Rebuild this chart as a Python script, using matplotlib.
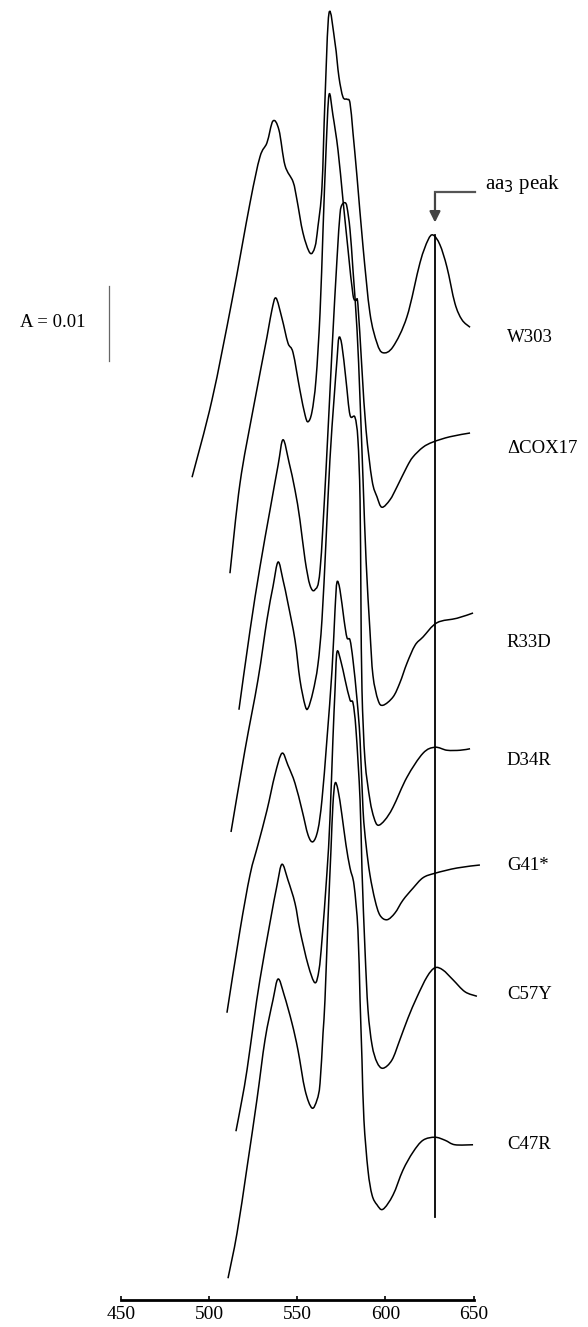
import matplotlib
matplotlib.use("Agg")
import matplotlib.pyplot as plt
from matplotlib.path import Path
from matplotlib.patches import PathPatch

plt.rcParams['font.family'] = ['Liberation Serif', 'DejaVu Serif']

# ---- data: wavelength (nm) and absorbance (mA, as plotted) ----
w303_x = [490.3, 501.6, 513.0, 523.2, 528.8, 532.8, 536.2, 539.6, 543.0, 547.6, 549.8, 553.2, 557.2, 560.0,
          561.7, 564.0, 565.7, 568.0, 571.4, 573.6, 575.9, 578.2, 579.9, 581.6, 583.9, 587.3, 591.2, 595.2,
          598.6, 604.3, 612.2, 619.6, 624.1, 627.0, 630.9, 634.9, 639.4, 643.4, 648.0]
w303_y = [109.7, 120.0, 133.3, 146.3, 152.4, 154.3, 157.2, 156.0, 151.3, 149.1, 146.7, 142.3, 139.6, 140.4,
          143.1, 148.4, 160.0, 171.6, 167.6, 163.1, 160.4, 160.1, 159.6, 155.6, 149.7, 140.4, 131.6, 127.6,
          126.3, 127.1, 131.1, 138.3, 141.3, 142.0, 140.7, 137.7, 132.9, 130.7, 129.7]

cox17_x = [511.8, 517.5, 524.9, 532.8, 535.6, 537.9, 541.3, 544.7, 547.6, 551.5, 554.4, 556.1, 558.3, 560.6,
           562.9, 564.6, 566.3, 568.0, 570.2, 573.1, 575.9, 578.8, 581.6, 583.3, 584.4, 586.7, 589.0, 592.4,
           595.2, 598.0, 602.6, 606.5, 612.2, 615.6, 621.3, 627.0, 636.6, 648.0]
cox17_y = [96.9, 108.9, 118.7, 128.4, 132.0, 133.6, 130.9, 127.6, 126.3, 121.3, 118.0, 117.1, 118.4, 122.7,
           131.6, 142.7, 153.3, 160.7, 158.0, 153.3, 146.7, 140.0, 134.0, 133.3, 132.7, 124.0, 116.0, 109.3,
           107.1, 105.7, 106.7, 108.4, 111.1, 112.4, 113.7, 114.4, 115.1, 115.6]

r33d_x = [516.9, 523.2, 528.8, 534.5, 539.1, 541.9, 545.3, 548.7, 551.5, 554.4, 557.2, 560.0, 562.9, 566.3,
          569.7, 572.5, 574.2, 575.3, 577.1, 578.2, 579.9, 581.6, 583.9, 585.6, 587.3, 589.0, 591.2, 592.9,
          595.8, 598.6, 604.3, 608.2, 612.2, 616.8, 621.3, 629.2, 640.6, 649.7]
r33d_y = [78.7, 89.3, 97.7, 105.3, 111.3, 114.7, 111.7, 108.0, 104.0, 98.7, 95.3, 94.7, 97.3, 110.7,
          126.7, 138.7, 144.7, 146.0, 146.3, 145.7, 142.7, 137.3, 129.3, 120.0, 109.3, 98.7, 89.3, 83.3,
          80.0, 79.3, 80.4, 82.3, 84.9, 87.3, 88.4, 90.3, 90.9, 91.6]

d34r_x = [512.4, 520.3, 527.7, 532.8, 536.2, 539.1, 541.9, 544.7, 548.7, 551.5, 554.4, 556.1, 558.9, 561.7,
          564.0, 566.3, 568.5, 570.8, 572.5, 573.6, 575.3, 577.6, 579.9, 582.7, 584.4, 585.6, 586.1, 586.7,
          588.4, 591.2, 593.5, 595.8, 599.7, 604.3, 612.2, 621.3, 628.1, 634.9, 642.3, 648.0]
d34r_y = [62.4, 73.3, 82.7, 90.7, 95.1, 98.4, 96.0, 92.9, 88.0, 82.7, 79.3, 78.9, 81.1, 84.7,
          90.7, 101.3, 112.0, 120.0, 125.3, 128.3, 127.3, 122.7, 118.0, 117.7, 114.7, 106.7, 93.3, 81.3,
          72.0, 66.7, 64.3, 63.3, 64.0, 65.7, 69.7, 72.9, 73.7, 73.3, 73.3, 73.5]

g41_x = [510.1, 517.5, 523.2, 527.7, 532.8, 537.3, 541.3, 544.7, 548.7, 552.7, 556.1, 558.9, 561.7, 564.0,
         566.8, 569.7, 571.4, 572.5, 574.2, 576.5, 578.2, 579.9, 581.6, 583.9, 585.6, 587.3, 589.0, 591.2,
         594.1, 596.9, 600.9, 605.4, 609.9, 615.6, 621.3, 628.1, 640.6, 653.6]
g41_y = [38.3, 49.3, 56.7, 60.7, 65.3, 70.0, 72.9, 71.3, 68.9, 65.3, 62.0, 61.1, 62.7, 66.7,
         74.7, 84.0, 92.0, 95.7, 94.7, 90.7, 88.3, 88.0, 85.3, 80.0, 74.7, 65.3, 60.7, 56.7,
         53.3, 51.3, 50.7, 51.6, 53.3, 54.9, 56.3, 56.9, 57.6, 58.0]

c57y_x = [515.2, 518.6, 521.5, 525.4, 528.8, 534.5, 538.5, 541.3, 544.7, 548.7, 551.5, 556.1, 560.0, 562.3,
          564.0, 566.8, 568.5, 570.2, 571.4, 572.5, 574.8, 577.1, 579.9, 581.6, 583.3, 585.6, 586.7, 588.4,
          590.1, 592.4, 595.2, 598.6, 603.7, 608.2, 612.8, 617.9, 623.6, 628.1, 632.6, 638.3, 645.1, 651.9]
c57y_y = [22.5, 26.7, 30.7, 37.3, 42.7, 50.3, 55.3, 58.1, 56.0, 52.9, 49.3, 44.7, 42.3, 44.0,
          48.0, 56.9, 64.0, 74.7, 81.3, 86.4, 85.1, 82.7, 80.0, 79.6, 76.0, 66.7, 57.3, 46.7,
          38.7, 34.0, 31.7, 30.9, 32.0, 34.7, 37.6, 40.4, 43.1, 44.3, 44.0, 42.7, 41.1, 40.5]

c47r_x = [510.7, 515.8, 521.5, 527.1, 531.7, 536.2, 539.1, 542.5, 547.0, 550.4, 554.4, 558.3, 561.2, 562.9,
          564.6, 565.7, 567.4, 569.1, 570.2, 571.4, 573.1, 575.3, 577.6, 579.9, 582.2, 584.4, 585.6, 586.7,
          587.8, 590.1, 592.4, 595.2, 598.6, 604.3, 609.9, 615.6, 621.3, 628.1, 633.8, 639.4, 649.7]
c47r_y = [2.9, 8.9, 17.7, 26.7, 34.7, 40.0, 42.8, 40.7, 36.9, 33.3, 28.0, 25.6, 26.7, 28.9,
          35.6, 40.0, 50.7, 60.0, 66.0, 68.9, 68.0, 64.7, 60.7, 57.6, 55.3, 49.3, 40.0, 32.0,
          24.0, 17.3, 14.0, 12.7, 12.1, 14.0, 17.3, 19.7, 21.3, 21.7, 21.3, 20.7, 20.7]

labels = ["W303", "\u0394COX17", "R33D", "D34R", "G41*", "C57Y", "C47R"]
label_y = [128.3, 113.6, 87.7, 71.9, 57.9, 40.7, 20.7]
series_x = [w303_x, cox17_x, r33d_x, d34r_x, g41_x, c57y_x, c47r_x]
series_y = [w303_y, cox17_y, r33d_y, d34r_y, g41_y, c57y_y, c47r_y]

aa3_nm = 628.1
xticks = [450, 500, 550, 600, 650]


def smooth_path(xs, ys):
    """Catmull-Rom curve through the given points, as cubic Bezier path."""
    pts = list(zip(xs, ys))
    n = len(pts)
    verts = [pts[0]]
    codes = [Path.MOVETO]
    for i in range(n - 1):
        p0 = pts[i - 1] if i > 0 else pts[i]
        p1 = pts[i]
        p2 = pts[i + 1]
        p3 = pts[i + 2] if i + 2 < n else pts[i + 1]
        c1 = (p1[0] + (p2[0] - p0[0]) / 6.0, p1[1] + (p2[1] - p0[1]) / 6.0)
        c2 = (p2[0] - (p3[0] - p1[0]) / 6.0, p2[1] - (p3[1] - p1[1]) / 6.0)
        verts += [c1, c2, p2]
        codes += [Path.CURVE4, Path.CURVE4, Path.CURVE4]
    return Path(verts, codes)


# ---- figure ----
W, H = 588, 1327
fig = plt.figure(figsize=(W / 100, H / 100), dpi=100)
x0, x1 = 121, 482.4
y_axis = 1300
ax = fig.add_axes([x0 / W, 1 - y_axis / H, (x1 - x0) / W, y_axis / H])
ax.set_xlim(450, 655)
ax.set_ylim(0, y_axis / 7.5)

for xs, ys in zip(series_x, series_y):
    ax.add_patch(PathPatch(smooth_path(xs, ys), facecolor='none', edgecolor='black',
                           lw=1.1, clip_on=False, joinstyle='round'))

# aa3 vertical line
ax.plot([aa3_nm, aa3_nm], [w303_y[33], 11.1], color='black', lw=1.3)

# arrow + label
ax.plot([aa3_nm, 650.8], [147.7, 147.7], color='#555555', lw=1.6, clip_on=False)
ax.annotate('', xy=(aa3_nm, 143.3), xytext=(aa3_nm, 147.9),
            arrowprops=dict(arrowstyle='-|>', color='#444444', lw=1.6, mutation_scale=16),
            annotation_clip=False)
ax.text(656.5, 148.7, 'aa$_3$ peak', fontsize=15, va='center', ha='left', clip_on=False)

# labels
for lab, ly in zip(labels, label_y):
    ax.text(668.9, ly, lab, fontsize=13.5, va='center', ha='left', clip_on=False)

# scale bar
ax.plot([443.2, 443.2], [135.2, 125.2], color='#666666', lw=0.9, clip_on=False)
ax.text(430.1, 130.3, 'A = 0.01', fontsize=13.5, va='center', ha='right', clip_on=False)

# axes styling
for s in ['top', 'right', 'left']:
    ax.spines[s].set_visible(False)
ax.spines['bottom'].set_bounds(450, 650)
ax.spines['bottom'].set_linewidth(2.0)
ax.set_yticks([])
ax.set_xticks(xticks)
ax.set_xticklabels([str(t) for t in xticks])
ax.tick_params(axis='x', direction='in', length=3, width=1.2, labelsize=14, pad=4)
ax.patch.set_alpha(0)

fig.savefig('out.png', dpi=100)
